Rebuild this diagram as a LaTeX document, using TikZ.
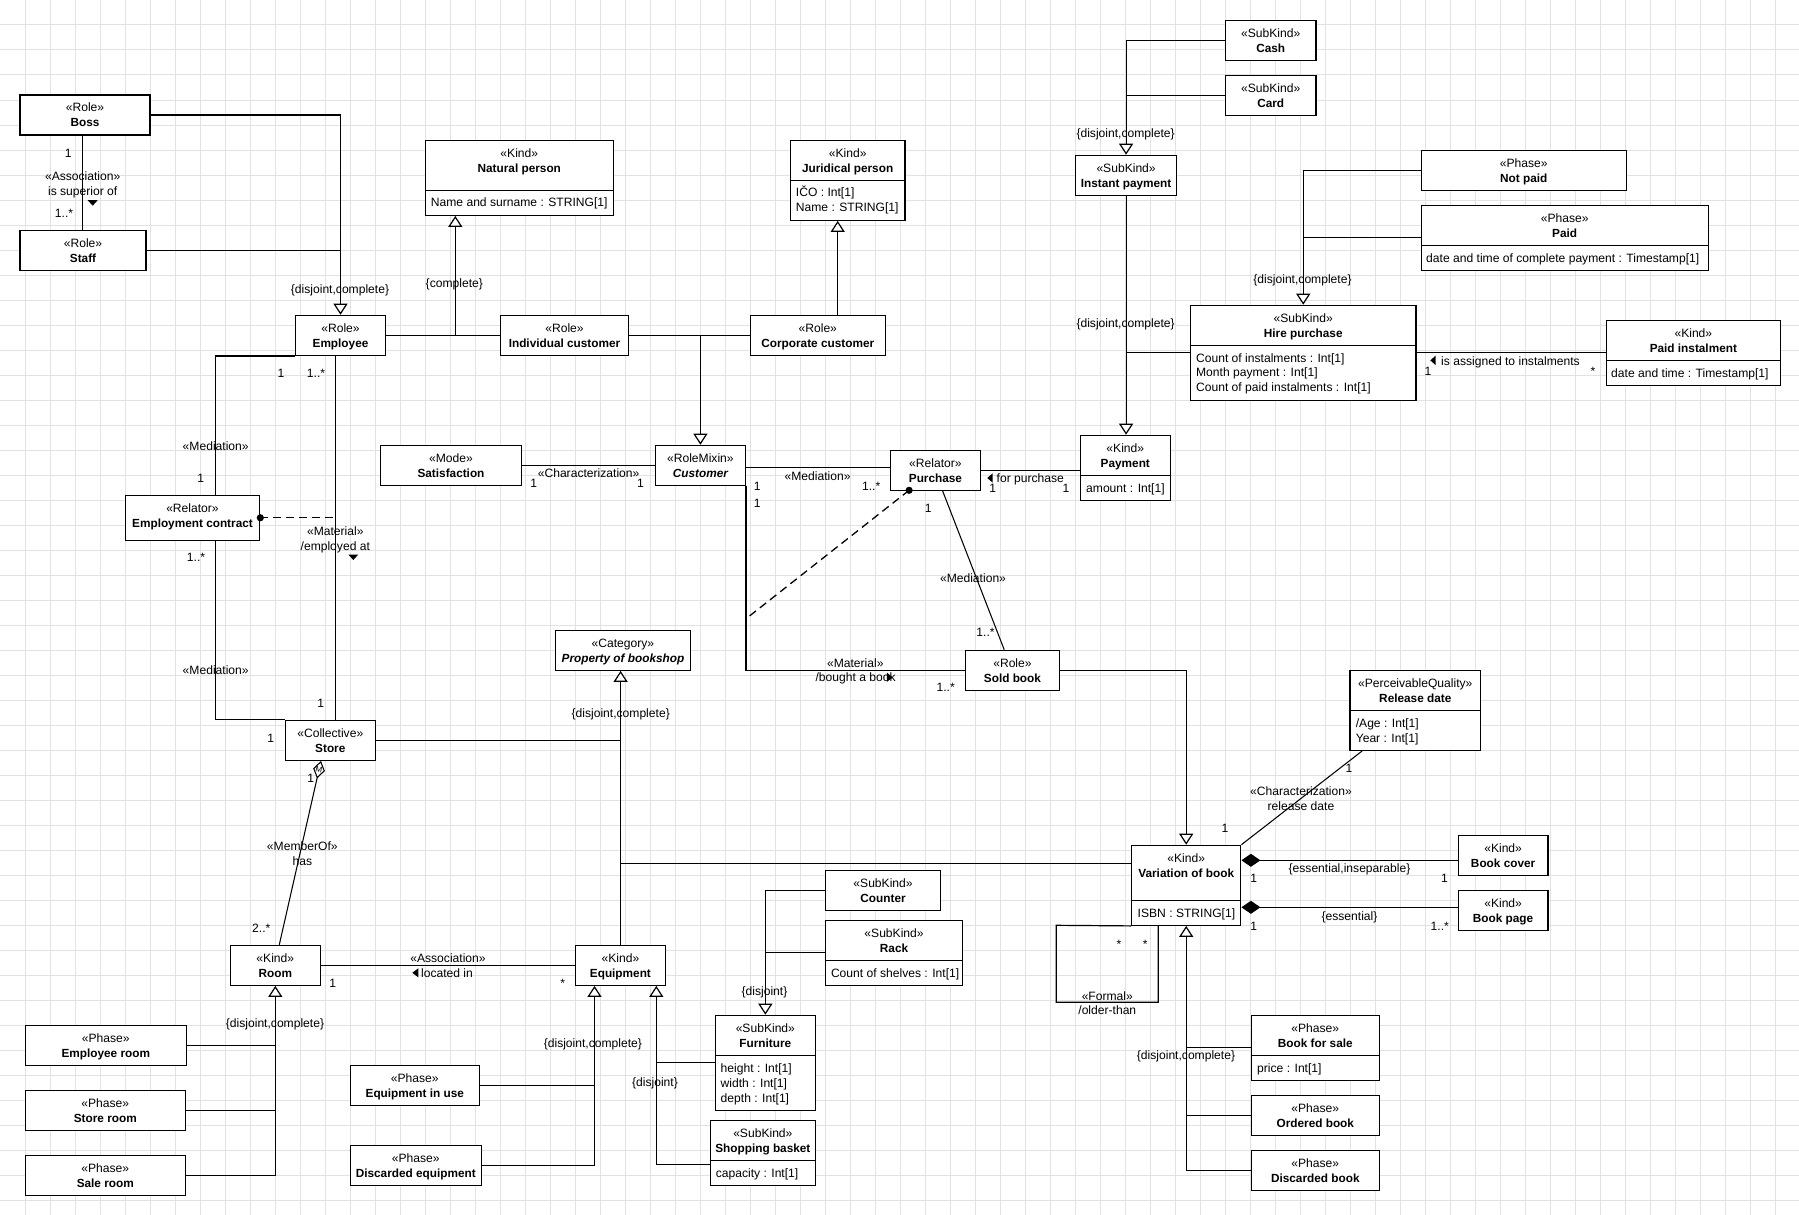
\documentclass[tikz,border=0pt]{standalone}
\usepackage{fontspec}
\setmainfont{Liberation Sans}
\usetikzlibrary{arrows.meta,fit}
\definecolor{gridc}{RGB}{226,226,226}
\newcommand\fsz{\fontsize{12.1}{14}\selectfont}
\newcommand\tsz{\fontsize{11.8}{14}\selectfont\bfseries}
\newcounter{lbc}
\newcommand\lab[3]{\stepcounter{lbc}\node[lbl] (lab\arabic{lbc}) at (#1,#2) {#3};}
\newcommand\attr[3]{\stepcounter{lbc}\node[lbl,anchor=base west] (att\arabic{lbc}) at (#1,#2) {#3};}
\newcommand\ubox[7]{%
  \node[box, fit={(#2,#3) (#4,#5)}] (#1) {};
  \node[lbl] (#1s) at ({(#2+#4)/2},{#3+12.5}) {«#6»};
  \node[lbl,font=\tsz] (#1t) at ({(#2+#4)/2},{#3+27.5}) {#7};
}
\newcommand\dbox[8]{%
  \ubox{#1}{#2}{#3}{#4}{#5}{#7}{#8}
  \draw[conn] (#2,#6) -- (#4,#6);
}
\tikzset{
  box/.style={draw, line width=1.2pt, fill=white, inner sep=0pt},
  lbl/.style={font=\fsz, inner sep=0pt, anchor=base, yshift=-4.3pt},
  conn/.style={line width=1.2pt},
  thinl/.style={line width=1.05pt},
  gen/.style={conn, -{Triangle[length=11pt,width=14pt,fill=white]}},
  comp/.style={conn, {Diamond[length=19pt,width=13pt]}-},
  memb/.style={thinl, {Diamond[length=18pt,width=12pt,fill=white]}-},
  dashl/.style={line width=1.3pt, dash pattern=on 8pt off 5pt},
}
\begin{document}
\begin{tikzpicture}[x=1pt,y=-1pt]
\useasboundingbox (0,0) rectangle (1799,1215);
\fill[white] (0,0) rectangle (1799,1215);
\foreach \i in {25,50,...,1775} \draw[gridc, line width=1pt] (\i,0) -- (\i,1215);
\foreach \j in {25,50,...,1200} \draw[gridc, line width=1pt] (0,\j) -- (1799,\j);

% ---------- boxes ----------
\ubox{boss}{20}{95}{150}{135}{Role}{Boss}
\ubox{staff}{20}{230.3}{146}{270.3}{Role}{Staff}
\ubox{employee}{295.3}{315.3}{385.7}{355.3}{Role}{Employee}
\dbox{natural}{425.3}{140.3}{613.3}{215.3}{190.3}{Kind}{Natural person}
\attr{430.7}{202.3}{Name and surname : STRING[1]}
\ubox{indiv}{500.7}{315.3}{628.3}{355.3}{Role}{Individual customer}
\dbox{juridical}{790.3}{140.3}{905}{220.3}{180.3}{Kind}{Juridical person}
\attr{795.7}{192.3}{IČO : Int[1]}
\attr{795.7}{207.3}{Name : STRING[1]}
\ubox{corporate}{750.3}{315.3}{885.3}{355.3}{Role}{Corporate customer}
\ubox{satisf}{380.3}{445.3}{521.7}{485.3}{Mode}{Satisfaction}
\ubox{customer}{655.5}{445.3}{745.3}{485.3}{RoleMixin}{\itshape Customer}
\ubox{emplcontract}{125.3}{495.3}{259.7}{540.3}{Relator}{Employment contract}
\ubox{purchase}{890.5}{450.3}{980.4}{490.3}{Relator}{Purchase}
\dbox{payment}{1080.3}{435.3}{1170.3}{500.3}{475.3}{Kind}{Payment}
\attr{1086}{487.7}{amount : Int[1]}
\ubox{cash}{1225.5}{20.3}{1315.9}{60.3}{SubKind}{Cash}
\ubox{card}{1225.5}{75.3}{1315.9}{115.3}{SubKind}{Card}
\ubox{instant}{1075.4}{155.3}{1176.8}{195.3}{SubKind}{Instant payment}
\ubox{notpaid}{1421.2}{150.3}{1626.4}{190.3}{Phase}{Not paid}
\dbox{paid}{1421.2}{205.3}{1708.1}{270.3}{245.3}{Phase}{Paid}
\attr{1426}{257.7}{date and time of complete payment : Timestamp[1]}
\dbox{hire}{1190.6}{305.3}{1415.9}{400.3}{345.3}{SubKind}{Hire purchase}
\attr{1195.9}{357.7}{Count of instalments : Int[1]}
\attr{1195.9}{372.5}{Month payment : Int[1]}
\attr{1195.9}{387.3}{Count of paid instalments : Int[1]}
\dbox{paidinst}{1606.3}{320.3}{1780.4}{385.3}{360.3}{Kind}{Paid instalment}
\attr{1611}{372.7}{date and time : Timestamp[1]}
\ubox{soldbook}{965.4}{650.3}{1059.5}{690.3}{Role}{Sold book}
\ubox{property}{555.5}{630.3}{690.4}{670.3}{Category}{\itshape Property of bookshop}
\ubox{store}{285.3}{720.3}{375.3}{760.3}{Collective}{Store}
\dbox{release}{1350}{670.3}{1480.6}{750.3}{710.3}{PerceivableQuality}{Release date}
\attr{1355.6}{722.7}{/Age : Int[1]}
\attr{1355.6}{737.7}{Year : Int[1]}
\dbox{variation}{1131.6}{845.3}{1240.8}{925.3}{900.3}{Kind}{Variation of book}
\attr{1137.5}{912.7}{ISBN : STRING[1]}
\ubox{bookcover}{1458.2}{835.3}{1548}{875.3}{Kind}{Book cover}
\ubox{bookpage}{1458.2}{890.3}{1548}{930.3}{Kind}{Book page}
\dbox{bookforsale}{1251.3}{1015.3}{1379.3}{1080.3}{1055.3}{Phase}{Book for sale}
\attr{1257}{1067.7}{price : Int[1]}
\ubox{ordered}{1251.3}{1095.3}{1379.3}{1135.3}{Phase}{Ordered book}
\ubox{discbook}{1251.3}{1150.3}{1379.3}{1190.3}{Phase}{Discarded book}
\ubox{room}{230.3}{945.3}{320.3}{985.3}{Kind}{Room}
\ubox{equipment}{575.4}{945.3}{665.4}{985.3}{Kind}{Equipment}
\ubox{emproom}{25.3}{1025.3}{186.3}{1065.3}{Phase}{Employee room}
\ubox{storeroom}{25.3}{1090.3}{185.3}{1130.3}{Phase}{Store room}
\ubox{saleroom}{25.3}{1155.3}{185.3}{1195.3}{Phase}{Sale room}
\ubox{equse}{350.3}{1065.3}{479.3}{1105.3}{Phase}{Equipment in use}
\ubox{eqdisc}{350.3}{1145.3}{481.3}{1185.3}{Phase}{Discarded equipment}
\ubox{counter}{825.4}{870.3}{940.7}{910.3}{SubKind}{Counter}
\dbox{rack}{825.4}{920.3}{962.7}{985.3}{960.3}{SubKind}{Rack}
\attr{830.8}{972.7}{Count of shelves : Int[1]}
\dbox{furniture}{715.6}{1015.3}{815.1}{1110.3}{1055.3}{SubKind}{Furniture}
\attr{720.5}{1067.7}{height : Int[1]}
\attr{720.5}{1082.7}{width : Int[1]}
\attr{720.5}{1097.7}{depth : Int[1]}
\dbox{basket}{710.6}{1120.3}{815.1}{1185.3}{1160.3}{SubKind}{Shopping basket}
\attr{715.6}{1172.7}{capacity : Int[1]}

% ---------- helper coordinates ----------
\coordinate (bsx) at (82.3,0);
\coordinate (jnp) at (455.3,335.3);
\coordinate (jcx) at (837.7,0);
\coordinate (mcx) at (215.3,0);
\coordinate (ematx) at (335.3,0);
\coordinate (cpy) at (0,467.3);
\coordinate (pdot) at (909.1,490.3);
\coordinate (pdend) at (745.3,619.3);
\coordinate (pmx1) at (942.6,0);
\coordinate (pmx2) at (1004.2,0);
\coordinate (rcx) at (1362.2,0);
\coordinate (bcy) at (0,860.3);
\coordinate (bpy) at (0,907.3);
\coordinate (fl1) at (1158.3,1002.3);
\coordinate (fl2) at (1056.3,925.3);
\coordinate (pcx) at (620.6,0);
\coordinate (vy) at (0,863.3);
\coordinate (m1) at (321,0);
\coordinate (m2) at (279.3,0);
\coordinate (eq1) at (594.5,0);
\coordinate (eq2) at (656.3,0);
\coordinate (bky) at (0,1164.3);

% ---------- connectors ----------
\draw[conn] (boss.south -| bsx) -- (staff.north -| bsx);
\draw[gen] (boss.east) -| (employee.north);
\draw[conn] (staff.east) -- (staff.east -| employee.north);
\draw[conn] (employee.east) -- (indiv.west);
\draw[gen] (jnp) -- (jnp |- natural.south);
\draw[conn] (indiv.east) -- (corporate.west);
\draw[gen] (indiv.east -| customer.north) -- (customer.north);
\draw[gen] (corporate.north -| jcx) -- (juridical.south -| jcx);
\draw[conn] (employee.south west) -- (employee.south west -| mcx) -- (emplcontract.north -| mcx);
\draw[conn] (employee.south -| ematx) -- (store.north -| ematx);
\draw[dashl] (emplcontract.east) -- (emplcontract.east -| ematx);
\fill (emplcontract.east) circle[radius=3.6];
\draw[conn] (emplcontract.south -| mcx) |- (store.north west);
\draw[conn] (satisf.east) -- (customer.west);
\draw[conn] (customer.east |- cpy) -- (purchase.west |- cpy);
\draw[conn] (purchase.east) -- (purchase.east -| payment.west);
\draw[conn] (customer.south east) |- (soldbook.west);
\draw[dashl] (pdot) -- (pdend);
\fill (pdot) circle[radius=3.6];
\draw[thinl] (purchase.south -| pmx1) -- (soldbook.north -| pmx2);
\draw[gen] (soldbook.east) -| (variation.north);
\draw[gen] (instant.south) -- (instant.south |- payment.north);
\draw[conn] (hire.west) -- (hire.west -| instant.south);
\draw[gen] (cash.west) -| (instant.north);
\draw[conn] (card.west) -- (card.west -| instant.north);
\draw[gen] (notpaid.west) -| (hire.north);
\draw[conn] (paid.west) -- (paid.west -| hire.north);
\draw[conn] (hire.east) -- (paidinst.west);
\draw[thinl] (release.south -| rcx) -- (variation.north east);
\draw[comp] (variation.east |- bcy) -- (bookcover.west |- bcy);
\draw[comp] (variation.east |- bpy) -- (bookpage.west |- bpy);
\draw[gen] (discbook.west) -| (variation.south);
\draw[conn] (bookforsale.west) -- (bookforsale.west -| variation.south);
\draw[conn] (ordered.west) -- (ordered.west -| variation.south);
\draw[conn] (variation.south -| fl1) -- (fl1) -- (fl1 -| fl2) -- (fl2) -- (variation.south west);
\draw[gen] (equipment.north -| pcx) -- (property.south -| pcx);
\draw[conn] (store.east) -- (store.east -| pcx);
\draw[conn] (variation.west |- vy) -- (pcx |- vy);
\draw[memb] (store.south -| m1) -- (room.north -| m2);
\node[font=\fontsize{8}{8}\selectfont, rotate=-12.7, inner sep=0pt] (mlab) at (319,769.5) {M};
\draw[conn] (room.east) -- (equipment.west);
\draw[gen] (saleroom.east) -| (room.south);
\draw[conn] (emproom.east) -- (emproom.east -| room.south);
\draw[conn] (storeroom.east) -- (storeroom.east -| room.south);
\draw[gen] (eqdisc.east) -| (eq1 |- equipment.south);
\draw[conn] (equse.east) -- (equse.east -| eq1);
\draw[gen] (basket.west |- bky) -| (eq2 |- equipment.south);
\draw[conn] (furniture.west) -- (furniture.west -| eq2);
\draw[gen] (counter.west) -| (furniture.north);
\draw[conn] (rack.west) -- (rack.west -| furniture.north);

% ---------- reading-direction triangles ----------
\fill (87.7,200.2) -- (97.7,200.2) -- (92.7,205.7) -- cycle;
\fill (348.3,554.5) -- (358.3,554.5) -- (353.3,560) -- cycle;
\fill (992.7,473.3) -- (992.7,482.7) -- (987.3,478) -- cycle;
\fill (886.8,672.5) -- (886.8,682) -- (892.5,677.3) -- cycle;
\fill (1435.5,355.7) -- (1435.5,365) -- (1430.3,360.4) -- cycle;
\fill (418.3,968.3) -- (418.3,977.3) -- (412.3,972.8) -- cycle;

% ---------- labels ----------
\lab{68.3}{152.7}{1}
\lab{82.7}{176}{«Association»}
\lab{82.7}{190.7}{is superior of}
\lab{64}{212.7}{1..*}
\lab{340}{289.3}{\{disjoint,complete\}}
\lab{454.3}{282.7}{\{complete\}}
\lab{281}{372.7}{1}
\lab{316}{372.7}{1..*}
\lab{215.7}{445.7}{«Mediation»}
\lab{200.7}{477.7}{1}
\lab{335.3}{531}{«Material»}
\lab{335.3}{545.7}{/employed at}
\lab{196}{556.7}{1..*}
\lab{215.7}{669.7}{«Mediation»}
\lab{320.7}{702.7}{1}
\lab{270.7}{737.7}{1}
\lab{588.6}{472.7}{«Characterization»}
\lab{533.7}{482.7}{1}
\lab{640.4}{482.7}{1}
\lab{817.6}{476}{«Mediation»}
\lab{757.3}{486}{1}
\lab{871.2}{486}{1..*}
\lab{757.3}{502.7}{1}
\lab{1030.3}{477.7}{for purchase}
\lab{992.7}{487.7}{1}
\lab{1066}{487.7}{1}
\lab{928.3}{507.7}{1}
\lab{973}{577.7}{«Mediation»}
\lab{985.5}{632}{1..*}
\lab{855.3}{662.7}{«Material»}
\lab{855.6}{677.3}{/bought a book}
\lab{945.7}{687}{1..*}
\lab{620.7}{713}{\{disjoint,complete\}}
\lab{1349}{767.7}{1}
\lab{1301}{791}{«Characterization»}
\lab{1301}{805.7}{release date}
\lab{1225}{827.7}{1}
\lab{1349.5}{868}{\{essential,inseparable\}}
\lab{1253.6}{877.7}{1}
\lab{1444.4}{877.7}{1}
\lab{1349.5}{916}{\{essential\}}
\lab{1253.6}{925.7}{1}
\lab{1439.8}{925.7}{1..*}
\lab{1119}{943.8}{*}
\lab{1145.3}{943.8}{*}
\lab{1107.3}{996}{«Formal»}
\lab{1107.3}{1010.3}{/older-than}
\lab{1186}{1054.7}{\{disjoint,complete\}}
\lab{310.7}{777.7}{1}
\lab{302.3}{846}{«MemberOf»}
\lab{302.3}{860.7}{has}
\lab{261.3}{928.3}{2..*}
\lab{448}{957.7}{«Association»}
\lab{447}{972.7}{located in}
\lab{332.7}{982.7}{1}
\lab{562.6}{983.5}{*}
\lab{275}{1022.7}{\{disjoint,complete\}}
\lab{592.9}{1042.7}{\{disjoint,complete\}}
\lab{655}{1082}{\{disjoint\}}
\lab{764.5}{990.7}{\{disjoint\}}
\lab{1125.6}{132.7}{\{disjoint,complete\}}
\lab{1302.5}{278.7}{\{disjoint,complete\}}
\lab{1125.6}{322.7}{\{disjoint,complete\}}
\lab{1510.5}{360.7}{is assigned to instalments}
\lab{1427.9}{370.7}{1}
\lab{1593}{371}{*}
\end{tikzpicture}
\end{document}
